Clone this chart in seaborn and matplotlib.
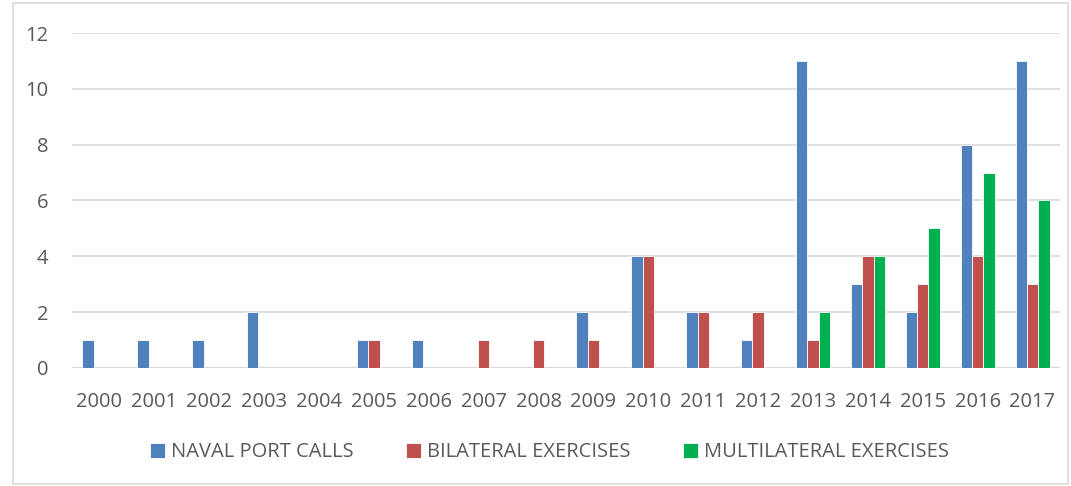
import matplotlib.pyplot as plt
import seaborn as sns
import pandas as pd

# Chart data
years = [str(y) for y in range(2000, 2018)]
naval_port_calls = [1, 1, 1, 2, 0, 1, 1, 0, 0, 2, 4, 2, 1, 11, 3, 2, 8, 11]
bilateral_exercises = [0, 0, 0, 0, 0, 1, 0, 1, 1, 1, 4, 2, 2, 1, 4, 3, 4, 3]
multilateral_exercises = [0, 0, 0, 0, 0, 0, 0, 0, 0, 0, 0, 0, 0, 2, 4, 5, 7, 6]
series_names = ["NAVAL PORT CALLS", "BILATERAL EXERCISES", "MULTILATERAL EXERCISES"]
colors = ["#4F81BD", "#C0504D", "#00B050"]

# Long-form table for seaborn
df = pd.DataFrame({
    "year": years * 3,
    "value": naval_port_calls + bilateral_exercises + multilateral_exercises,
    "series": [series_names[0]] * 18 + [series_names[1]] * 18 + [series_names[2]] * 18,
})

sns.set_style("white")
plt.rcParams["font.family"] = ["Open Sans", "DejaVu Sans"]

fig = plt.figure(figsize=(10.71, 4.86), dpi=100)
ax = fig.add_axes([0.0672, 0.243, 0.9225, 0.689])

sns.barplot(data=df, x="year", y="value", hue="series", palette=colors,
            saturation=1, width=0.62, edgecolor="white", linewidth=0.6, ax=ax)

ax.set_ylim(0, 12)
ax.set_yticks(range(0, 13, 2))
ax.set_xlim(-0.5, len(years) - 0.5)
ax.yaxis.grid(True, color="#d9d9d9", linewidth=1.2)
ax.set_axisbelow(True)
for side in ["top", "right", "left", "bottom"]:
    ax.spines[side].set_visible(False)
ax.axhline(0, color="#d9d9d9", linewidth=1.5, zorder=0.5)
ax.tick_params(axis="both", length=0, labelsize=14.5, labelcolor="#595959")
ax.tick_params(axis="x", pad=17)
ax.tick_params(axis="y", pad=17)
ax.set_xlabel("")
ax.set_ylabel("")

ax.legend(loc="center", bbox_to_anchor=(0.483, -0.252), ncol=3, frameon=False,
          fontsize=14.5, handlelength=0.75, handleheight=0.8, columnspacing=2.6,
          handletextpad=0.3, labelcolor="#595959")

# light border around the whole chart
fig.patches.append(plt.Rectangle((0.012, 0.004), 0.985, 0.99, transform=fig.transFigure,
                                 fill=False, edgecolor="#d9d9d9", linewidth=1.2))

plt.savefig("out.png", dpi=100)
plt.close()
